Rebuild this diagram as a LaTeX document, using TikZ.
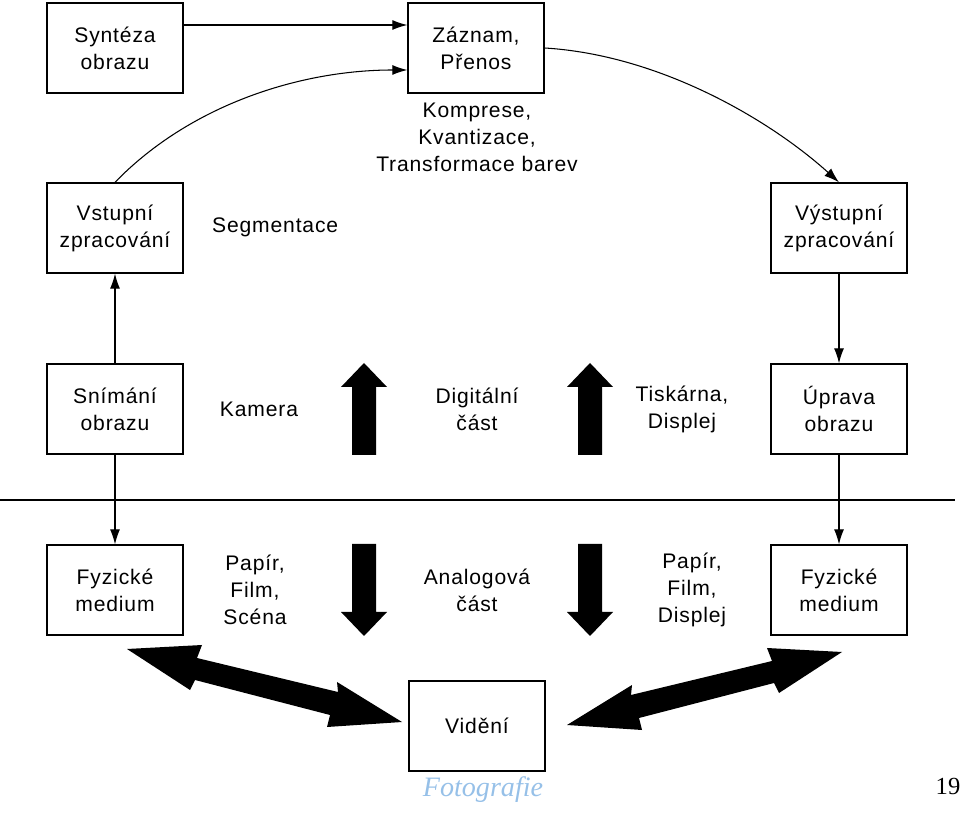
\documentclass[tikz,border=0pt]{standalone}
\usepackage{fontspec}
\setmainfont[LetterSpace=4]{Liberation Sans}
\newfontfamily\timesfont{Liberation Serif}
\usetikzlibrary{arrows.meta}
\definecolor{fotoblue}{RGB}{150,192,232}

\begin{document}
\begin{tikzpicture}[x=0.02cm, y=-0.02cm, >={Latex[length=0.3cm,width=0.2cm]},
    every node/.style={font=\fontsize{12}{15.3}\selectfont},
    box/.style={draw, line width=0.8pt, minimum width=2.72cm, minimum height=1.8cm, align=center, inner sep=0pt},
    lbl/.style={align=center},
    conn/.style={->, line width=0.6pt}]

    \useasboundingbox (0,0) rectangle (960,813);

    % Boxes
    \node[box] (synt) at (115,48) {Syntéza\\obrazu};
    \node[box] (zaz)  at (476,48) {Záznam,\\Přenos};
    \node[box] (vstup) at (115,228) {Vstupní\\zpracování};
    \node[box] (vyst) at (839,228) {Výstupní\\zpracování};
    \node[box] (snim) at (115,409) {Snímání\\obrazu};
    \node[box] (uprava) at (839,409) {Úprava\\obrazu};
    \node[box] (fyzL) at (115,590) {Fyzické\\medium};
    \node[box] (fyzR) at (839,590) {Fyzické\\medium};
    \node[box] (vid) at (477,726) {Vidění};

    % Labels
    \node[lbl] (komp) at (477,137) {Komprese,\\Kvantizace,\\Transformace barev};
    \node[lbl, anchor=west] (segm) at (206,227) {Segmentace};
    \node[lbl] (kam) at (259,409) {Kamera};
    \node[lbl] (digi) at (477,409) {Digitální\\část};
    \node[lbl] (tisk) at (682,409) {Tiskárna,\\Displej};
    \node[lbl] (papL) at (255,590) {Papír,\\Film,\\Scéna};
    \node[lbl] (analog) at (477,590) {Analogová\\část};
    \node[lbl] (papR) at (692,590) {Papír,\\Film,\\Displej};

    % Connectors
    \draw[conn] ([yshift=0.46cm]synt.east) -- ([yshift=0.46cm]zaz.west);
    \draw[conn] (vstup.north) .. controls (190,105) and (300,70) .. ([yshift=-0.44cm]zaz.west);
    \draw[conn] (zaz.east) .. controls (660,55) and (770,120) .. (vyst.north);
    \draw[conn] (snim) -- (vstup);
    \draw[conn] (vyst) -- (uprava);
    \draw[conn] (snim) -- (fyzL);
    \draw[conn] (uprava) -- (fyzR);

    % Dividing line
    \draw[line width=0.6pt] (0,500) -- (955,500);

    % Block arrows
    \foreach \cx in {364,590} {
      \fill (\cx,363) -- (\cx+23,387) -- (\cx+12,387) -- (\cx+12,455) -- (\cx-12,455) -- (\cx-12,387) -- (\cx-23,387) -- cycle;
      \fill (\cx,636) -- (\cx+23,612) -- (\cx+12,612) -- (\cx+12,544) -- (\cx-12,544) -- (\cx-12,612) -- (\cx-23,612) -- cycle;
    }
    \fill (127,649) -- (202,645) -- (197,658) -- (338,692) -- (337,682) -- (402,722) -- (327,727) -- (330,715) -- (195,680) -- (190,690) -- cycle;
    \fill (842,652) -- (767,648) -- (772,661) -- (631,695) -- (632,685) -- (567,725) -- (642,730) -- (639,718) -- (774,683) -- (779,693) -- cycle;

    % Footer
    \node[text=fotoblue, font=\timesfont\itshape\fontsize{16}{18}\selectfont] (foto) at (483,790) {Fotografie};
    \node[font=\timesfont\fontsize{14}{16}\selectfont] (page) at (948,786) {19};

\end{tikzpicture}
\end{document}
